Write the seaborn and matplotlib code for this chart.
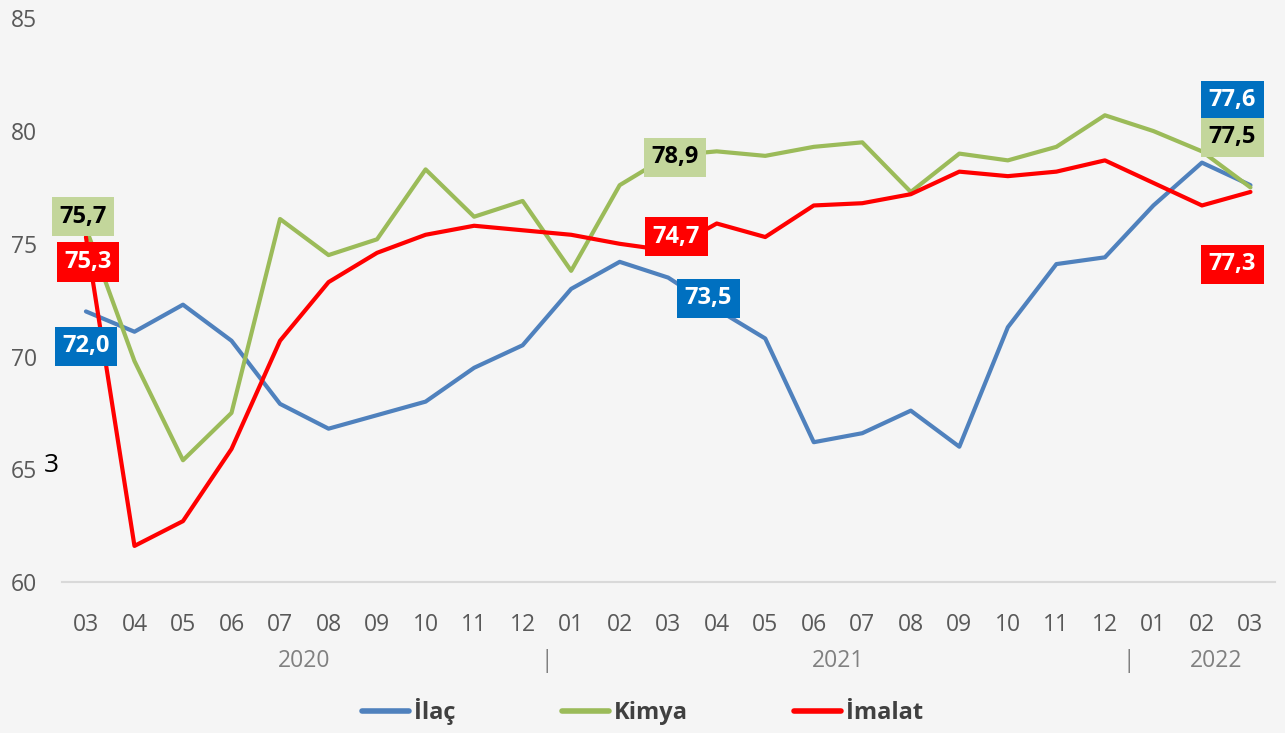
import matplotlib
matplotlib.use("Agg")
import matplotlib.pyplot as plt
import seaborn as sns
import pandas as pd

months = ["03", "04", "05", "06", "07", "08", "09", "10", "11", "12",
          "01", "02", "03", "04", "05", "06", "07", "08", "09", "10", "11", "12",
          "01", "02", "03"]
years = ["2020", "2021", "2022"]
year_spans = [(0, 9), (10, 21), (22, 24)]

ilac = [72.0, 71.1, 72.3, 70.7, 67.9, 66.8, 67.4, 68.0, 69.5, 70.5,
        73.0, 74.2, 73.5, 72.1, 70.8, 66.2, 66.6, 67.6, 66.0, 71.3, 74.1, 74.4,
        76.7, 78.6, 77.6]
kimya = [75.7, 69.8, 65.4, 67.5, 76.1, 74.5, 75.2, 78.3, 76.2, 76.9,
         73.8, 77.6, 78.9, 79.1, 78.9, 79.3, 79.5, 77.3, 79.0, 78.7, 79.3, 80.7,
         80.0, 79.1, 77.5]
imalat = [75.3, 61.6, 62.7, 65.9, 70.7, 73.3, 74.6, 75.4, 75.8, 75.6,
          75.4, 75.0, 74.7, 75.9, 75.3, 76.7, 76.8, 77.2, 78.2, 78.0, 78.2, 78.7,
          77.7, 76.7, 77.3]

series_names = ["İlaç", "Kimya", "İmalat"]
line_colors = ["#4F81BD", "#9BBB59", "#FF0000"]
box_colors = ["#0070C0", "#C3D69B", "#FF0000"]
box_text = ["white", "black", "white"]
yticks = [60, 65, 70, 75, 80, 85]

sns.set_theme(style="white")
plt.rcParams["font.family"] = ["Open Sans", "DejaVu Sans"]

df = pd.DataFrame({
    "idx": list(range(len(months))) * 3,
    "value": ilac + kimya + imalat,
    "series": [s for s in series_names for _ in months],
})

bg = "#F5F5F5"
fig = plt.figure(figsize=(12.85, 7.33), dpi=100, facecolor=bg)
ax = fig.add_axes([0.048, 0.206, 0.944, 0.769], facecolor=bg)

sns.lineplot(data=df, x="idx", y="value", hue="series", palette=line_colors,
             hue_order=series_names, linewidth=3, ax=ax, legend=False)

ax.set_xlim(-0.5, len(months) - 0.5)
ax.set_ylim(60, 85)
ax.set_yticks(yticks)
ax.set_yticklabels([str(t) for t in yticks], fontsize=16.5, color="#595959")
ax.set_xticks(range(len(months)))
ax.set_xticklabels(months, fontsize=16.5, color="#595959")
ax.tick_params(axis="x", length=0, pad=22)
ax.tick_params(axis="y", length=0, pad=18)
for s in ["top", "right", "left"]:
    ax.spines[s].set_visible(False)
ax.spines["bottom"].set_color("#D9D9D9")
ax.spines["bottom"].set_linewidth(1.5)
ax.set_xlabel("")
ax.set_ylabel("")

# year labels and separators
trans = ax.get_xaxis_transform()
for yr, (a, b) in zip(years, year_spans):
    ax.text((a + b) / 2 + (0.3 if yr == "2022" else 0), -0.14, yr, transform=trans,
            ha="center", va="center", fontsize=16.5, color="#808080")
for a, b in year_spans[1:]:
    ax.text(a - 0.5, -0.14, "|", transform=trans, ha="center", va="center",
            fontsize=16.5, color="#808080")

# data labels
data = [ilac, kimya, imalat]
label_specs = [
    # (series index, point index, offset points)
    (1, 0, (-2, 8)), (2, 0, (1.5, -18)), (0, 0, (0, -25)),
    (1, 12, (5, -1)), (2, 12, (6, 10)), (0, 12, (29, -15)),
    (0, 24, (-13, 61)), (1, 24, (-13, 36)), (2, 24, (-13, -52)),
]
for si, pi, off in label_specs:
    v = data[si][pi]
    ax.annotate(f"{v:.1f}".replace(".", ","), xy=(pi, v), xytext=off,
                textcoords="offset points", ha="center", va="center",
                fontsize=17, fontweight="bold", color=box_text[si],
                bbox=dict(boxstyle="square,pad=0.32", fc=box_colors[si], ec="none"),
                zorder=5)

# stray text near the 65 tick
ax.text(-0.72, 65.15, "3", fontsize=19, color="black", ha="center", va="center")

handles = [plt.Line2D([], [], color=c, linewidth=4) for c in line_colors]
fig.legend(handles, series_names, loc="lower center", bbox_to_anchor=(0.5, -0.018),
           ncol=3, frameon=False, columnspacing=4.5, handlelength=2,
           handletextpad=0.2, prop={"size": 17, "weight": "bold"},
           labelcolor="#404040")

fig.savefig("out.png", dpi=100, facecolor=bg)
